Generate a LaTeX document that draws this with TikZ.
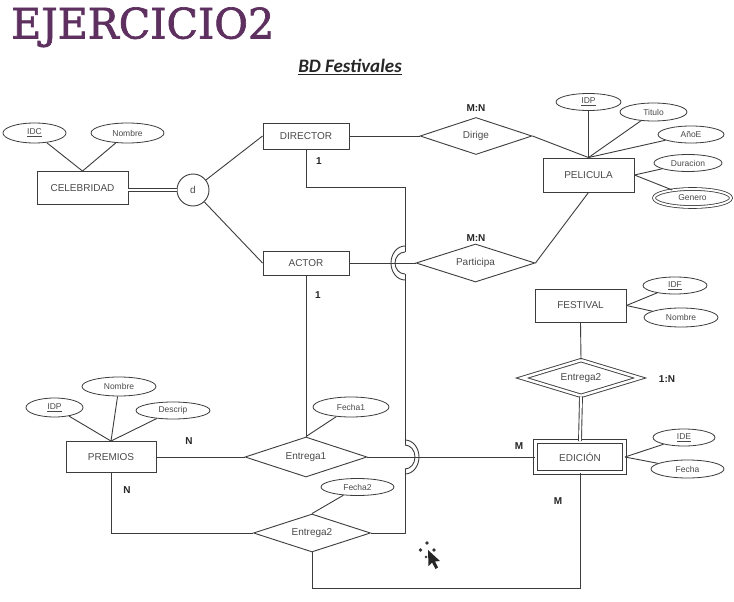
\documentclass[tikz,border=0pt]{standalone}
\usepackage{graphicx}
\usepackage{fontspec}
\setmainfont{Liberation Sans}
\newfontfamily\titlefont[FakeBold=1.6]{DejaVu Serif}
\newfontfamily\carlito{Carlito}
\usetikzlibrary{shapes.geometric}
\definecolor{ln}{HTML}{3C3C3C}
\definecolor{tx}{HTML}{4A4A4A}
\definecolor{purp}{HTML}{5E3060}
\tikzset{
 ent/.style={draw=ln, line width=0.9pt, rectangle, inner sep=0pt, text=tx, font=\fontsize{10}{12}\selectfont},
 rel/.style={draw=ln, line width=0.9pt, diamond, aspect=3, inner sep=0pt, text=tx, font=\fontsize{10}{12}\selectfont},
 attr/.style={draw=ln, line width=0.8pt, ellipse, inner sep=0pt, text=tx, font=\fontsize{8.5}{10}\selectfont},
 conn/.style={draw=ln, line width=0.9pt},
 card/.style={font=\bfseries\fontsize{10}{12}\selectfont, text=black!85, inner sep=0pt},
 dbl/.style={double=white, double distance=2.5pt},
}
\begin{document}
\begin{tikzpicture}[x=1pt,y=-1pt]
\fill[white] (0,0) rectangle (734,602);
\useasboundingbox (0,0) rectangle (734,602);

% titles
\node[anchor=base west, inner sep=0pt, text=purp, font=\titlefont\fontsize{42}{42}\selectfont] (title) at (11,38.5) {\scalebox{0.98}[1]{EJERCICIO2}};
\node[anchor=base, inner sep=0pt, font=\carlito\bfseries\itshape\fontsize{19}{22}\selectfont, text=black!85] (sub) at (350,73) {\underline{BD Festivales}};

% entities
\node[ent, minimum width=91pt, minimum height=33pt] (cel) at (82.5,188) {CELEBRIDAD};
\node[ent, minimum width=86pt, minimum height=26pt] (dir) at (306,136) {DIRECTOR};
\node[ent, minimum width=86pt, minimum height=24pt] (act) at (306,263) {ACTOR};
\node[ent, minimum width=91pt, minimum height=34pt] (pel) at (588.5,175) {PELICULA};
\node[ent, minimum width=91pt, minimum height=33pt] (fes) at (580.5,305.5) {FESTIVAL};
\node[ent, dbl, minimum width=89pt, minimum height=31pt] (edi) at (580,457) {EDICIÓN};
\node[ent, minimum width=90pt, minimum height=31pt] (pre) at (111,457) {PREMIOS};

% specialization circle
\node[draw=ln, line width=0.9pt, circle, minimum size=32pt, inner sep=0pt, text=tx, font=\fontsize{10}{12}\selectfont] (d) at (193,190) {d};

% relationships
\node[rel, minimum width=112pt, minimum height=37pt] (dirige) at (476,136) {Dirige};
\node[rel, minimum width=119pt, minimum height=38pt] (part) at (475.5,263) {Participa};
\node[rel, dbl, minimum width=118pt, minimum height=36pt] (ewk) at (581,378) {Entrega2};
\node[rel, minimum width=122pt, minimum height=40pt] (ent1) at (306,457) {Entrega1};
\node[rel, minimum width=117pt, minimum height=38pt] (ent2) at (312,533) {Entrega2};

% attributes
\node[attr, minimum width=63pt, minimum height=20pt] (idc) at (34.5,133) {\underline{IDC}};
\node[attr, minimum width=73pt, minimum height=20pt] (nomc) at (127.5,133) {Nombre};
\node[attr, minimum width=65pt, minimum height=17pt] (idp) at (588.5,102) {\underline{IDP}};
\node[attr, minimum width=67pt, minimum height=18pt] (tit) at (653.5,112) {Titulo};
\node[attr, minimum width=66pt, minimum height=17pt] (ano) at (691,134.5) {AñoE};
\node[attr, minimum width=68pt, minimum height=17pt] (dur) at (688,163) {Duracion};
\node[attr, dbl, double distance=2pt, minimum width=77pt, minimum height=18pt] (gen) at (692.5,198) {Genero};
\node[attr, minimum width=64pt, minimum height=17pt] (idf) at (675,285.5) {\underline{IDF}};
\node[attr, minimum width=74pt, minimum height=19pt] (nomf) at (681,317.5) {Nombre};
\node[attr, minimum width=62pt, minimum height=17pt] (ide) at (684,437.5) {\underline{IDE}};
\node[attr, minimum width=73pt, minimum height=18pt] (fec) at (687.5,469) {Fecha};
\node[attr, minimum width=57pt, minimum height=19pt] (idpr) at (54.5,407.5) {\underline{IDP}};
\node[attr, minimum width=74pt, minimum height=19pt] (nomp) at (119,386.5) {Nombre};
\node[attr, minimum width=74pt, minimum height=17pt] (des) at (173,410.5) {Descrip};
\node[attr, minimum width=76pt, minimum height=20pt] (fec1) at (351,407) {Fecha1};
\node[attr, minimum width=73pt, minimum height=17pt] (fec2) at (357.5,487) {Fecha2};

% attribute connectors
\draw[conn] (idc) -- (cel.north);
\draw[conn] (nomc) -- (cel.north);
\draw[conn] (idp) -- (pel.north);
\draw[conn] (tit) -- (pel.north);
\draw[conn] (ano) -- (pel.north);
\draw[conn] (dur) -- (pel.east);
\draw[conn] (gen) -- (pel.east);
\draw[conn] (idf) -- (fes.east);
\draw[conn] (nomf) -- (fes.east);
\draw[conn] (ide) -- (edi.east);
\draw[conn] (fec) -- (edi.east);
\draw[conn] (idpr) -- (pre.north);
\draw[conn] (nomp) -- (pre.north);
\draw[conn] (des) -- (pre.north);
\draw[conn] (fec1) -- (ent1.north);
\draw[conn] (fec2) -- (ent2.north);

% specialization
\draw[conn, dbl, double distance=2pt] (d.west -| cel.east) -- (d.west);
\draw[conn] (d) -- (dir.west);
\draw[conn] (d) -- (act.west);

% relationships
\draw[conn] (dir.east) -- (dirige.west);
\draw[conn] (dirige.east) -- (pel.north);
\draw[conn] (act.east) -- (part.west);
\draw[conn] (part.east) -- (pel.south);
\draw[conn] (fes.south) -- (ewk.north);
\draw[conn, dbl, double distance=2pt] (ewk.south) -- (edi.north);
\draw[conn] (act.south) -- (ent1.north);
\draw[conn] (pre.east) -- (ent1.west);
\draw[conn] (ent1.east) -- (edi.west);
\draw[conn] (pre.south) |- (ent2.west);

% director route with line hops
\coordinate (r1) at (405,187);
\coordinate (h1a) at (405,252);
\coordinate (h1b) at (405,274);
\coordinate (h2a) at (405,445);
\coordinate (h2b) at (405,469);
\coordinate (r2) at (405,533);
\draw[conn] (dir.south) |- (r1) -- (h1a);
\draw[conn] (405,246) arc[start angle=270, end angle=90, x radius=14, y radius=17];
\draw[conn] (h1a) arc[start angle=270, end angle=90, x radius=10, y radius=11];
\draw[conn] (h1b) -- (h2a);
\draw[conn] (405,440) arc[start angle=-90, end angle=90, x radius=14, y radius=17];
\draw[conn] (h2a) arc[start angle=-90, end angle=90, x radius=10, y radius=12];
\draw[conn] (h2b) -- (r2) -- (ent2.east);

% bottom loop
\coordinate (r3) at (312,588);
\draw[conn] (ent2.south) -- (r3) -| (edi.south);

% cardinalities
\node[card] (mn1) at (476,108) {M:N};
\node[card] (mn2) at (476,238) {M:N};
\node[card] (one1) at (319,161) {1};
\node[card] (one2) at (318,295) {1};
\node[card] (n1) at (189,441) {N};
\node[card] (n2) at (127,490) {N};
\node[card] (m1) at (519,446) {M};
\node[card] (m2) at (558,501) {M};
\node[card] (onen) at (667,379) {1:N};

% cursor
\fill[black!80] (427,543) circle (1.8);
\fill[black!80] (420.5,550) circle (1.8);
\fill[black!80] (434,550) circle (1.8);
\fill[black!80] (426,557) circle (1.4);
\fill[black!85] (428,550) -- (428.5,566) -- (432,562.5) -- (435.5,569) -- (438,567.5) -- (435,561.5) -- (440,561) -- cycle;
\end{tikzpicture}
\end{document}
